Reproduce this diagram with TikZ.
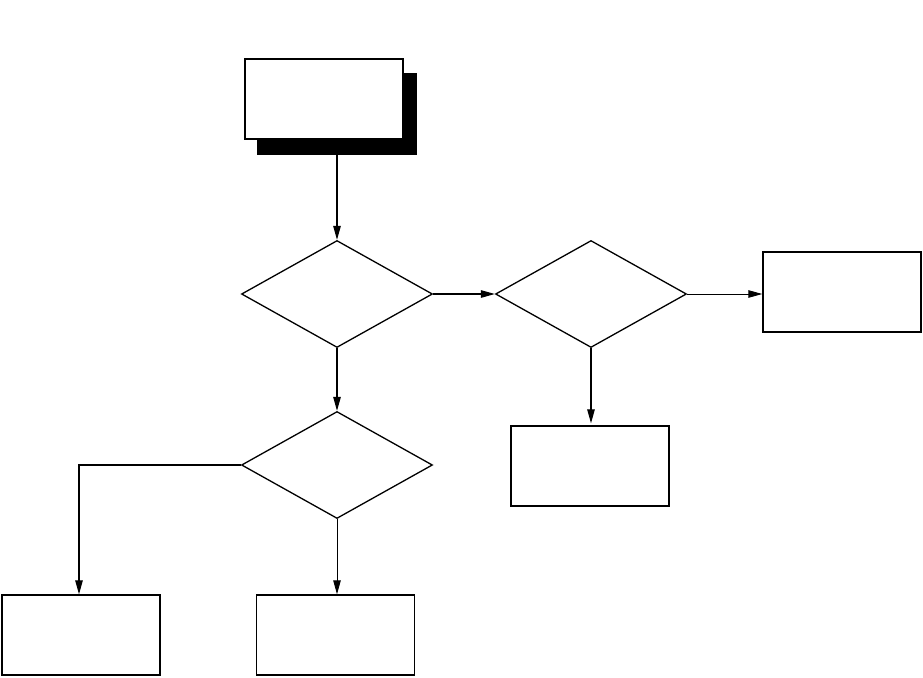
\documentclass[tikz,border=0pt]{standalone}
\usetikzlibrary{shapes.geometric,arrows.meta}
\begin{document}
\begin{tikzpicture}[x=1pt,y=-1pt,
  box/.style={draw=black,line width=1.4pt,fill=white,rectangle,inner sep=0pt,minimum width=158pt,minimum height=80pt},
  shade/.style={fill=black,draw=none,rectangle,inner sep=0pt,minimum width=160pt,minimum height=82pt},
  dec/.style={draw=black,line width=1.3pt,diamond,inner sep=0pt,minimum width=191pt,minimum height=107pt},
  conn/.style={line width=1.2pt,-{Triangle[length=14pt,width=7.5pt]}},
  thinconn/.style={line width=0.9pt,-{Triangle[length=14pt,width=7.5pt]}}]
\useasboundingbox (0,0) rectangle (923,677);
\node[shade] (startshadow) at (337,114) {};
\node[box] (start) at (324,99) {};
\node[dec] (d1) at (337,294) {};
\node[dec] (d2) at (591,294) {};
\node[dec] (d3) at (337,465) {};
\node[box] (r) at (842,292) {};
\node[box] (m) at (590,466) {};
\node[box] (l) at (81,635) {};
\node[box] (c) at (335.5,635) {};
\coordinate (corner) at (79,465);
\draw[conn] (startshadow.south -| d1.north) -- (d1.north);
\draw[conn] (d1.east) -- (d2.west);
\draw[thinconn] (d2.east) -- (d2.east -| r.west);
\draw[conn,shorten >=2pt] (d2.south) -- (d2.south |- m.north);
\draw[conn] (d1.south) -- (d3.north);
\draw[conn] (d3.west) -- (corner) -- (corner |- l.north);
\draw[thinconn] (d3.south) -- (d3.south |- c.north);
\end{tikzpicture}
\end{document}
